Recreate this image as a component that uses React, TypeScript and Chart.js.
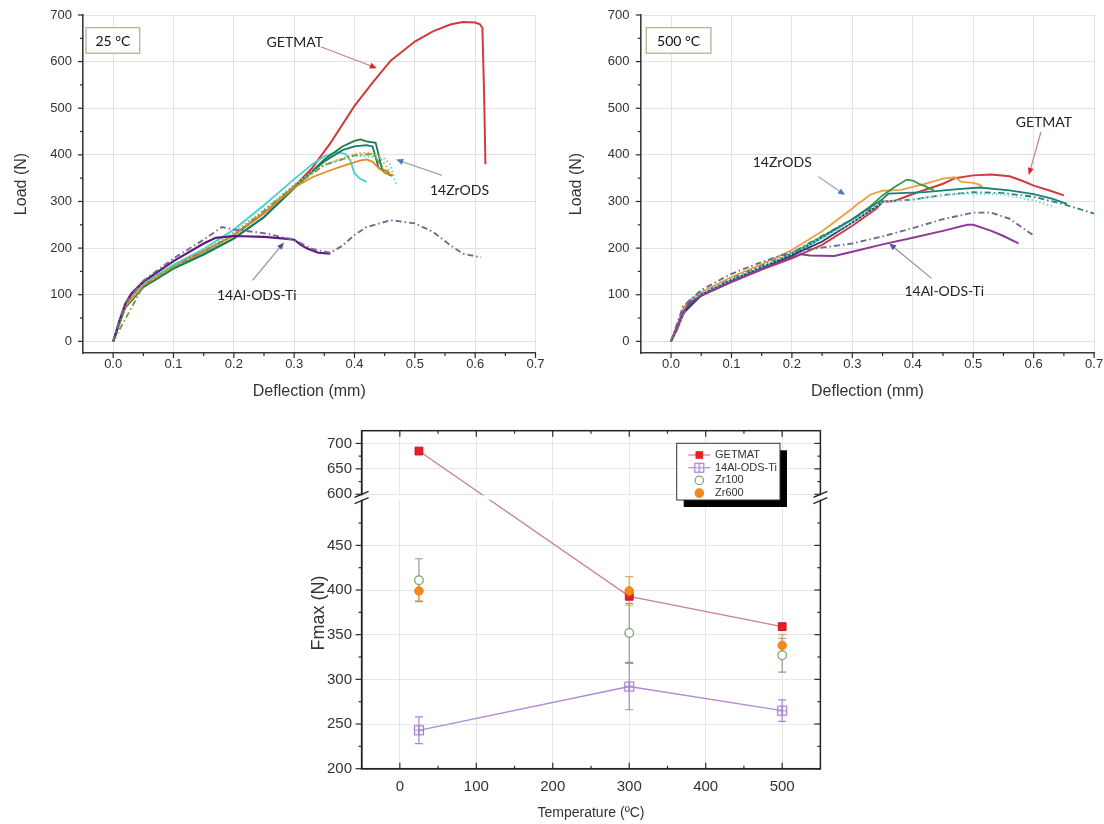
import React, { useEffect, useRef } from 'react';
import { Chart, registerables, LinearScale } from 'chart.js';

// ---------------- 25 °C load–deflection curves ----------------
const T25_GETMAT_X = [0, 0.005, 0.01, 0.02, 0.03, 0.05, 0.1, 0.15, 0.2, 0.25, 0.3, 0.33, 0.36, 0.4, 0.43, 0.46, 0.5, 0.53, 0.56, 0.58, 0.6, 0.608, 0.612, 0.615, 0.617];
const T25_GETMAT_Y = [0, 18, 40, 75, 98, 125, 163, 193, 228, 275, 332, 372, 425, 505, 555, 602, 643, 665, 680, 685, 684, 680, 672, 520, 380];
const T25_CYAN_X = [0, 0.01, 0.02, 0.03, 0.05, 0.1, 0.15, 0.2, 0.25, 0.3, 0.33, 0.35, 0.37, 0.385, 0.393, 0.4, 0.41, 0.42];
const T25_CYAN_Y = [0, 45, 80, 100, 124, 164, 198, 240, 292, 348, 380, 397, 406, 402, 388, 360, 348, 342];
const T25_CYAN_DOT_X = [0, 0.02, 0.05, 0.1, 0.15, 0.2, 0.25, 0.3, 0.35, 0.4, 0.43, 0.45, 0.46, 0.465, 0.47];
const T25_CYAN_DOT_Y = [0, 78, 122, 161, 194, 234, 282, 336, 380, 398, 396, 392, 378, 352, 336];
const T25_GREEN_X = [0, 0.02, 0.05, 0.1, 0.15, 0.2, 0.25, 0.3, 0.35, 0.38, 0.4, 0.41, 0.42, 0.435, 0.44, 0.445, 0.45, 0.462];
const T25_GREEN_Y = [0, 72, 116, 156, 186, 220, 266, 328, 390, 418, 430, 433, 429, 426, 400, 372, 362, 355];
const T25_TEAL_X = [0, 0.02, 0.05, 0.1, 0.15, 0.2, 0.25, 0.3, 0.35, 0.38, 0.4, 0.42, 0.43, 0.435, 0.44, 0.45];
const T25_TEAL_Y = [0, 73, 117, 157, 187, 221, 267, 330, 386, 410, 418, 421, 418, 395, 372, 364];
const T25_ORANGE_X = [0, 0.02, 0.05, 0.1, 0.15, 0.2, 0.25, 0.3, 0.33, 0.36, 0.39, 0.41, 0.42, 0.43, 0.44, 0.45, 0.465];
const T25_ORANGE_Y = [0, 75, 120, 160, 192, 228, 276, 330, 352, 367, 380, 388, 390, 385, 372, 362, 356];
const T25_ORANGE_DOT_X = [0, 0.02, 0.05, 0.1, 0.15, 0.2, 0.25, 0.3, 0.35, 0.4, 0.42, 0.44, 0.45, 0.46];
const T25_ORANGE_DOT_Y = [0, 76, 121, 162, 195, 232, 280, 335, 378, 402, 405, 398, 380, 362];
const T25_OLIVE_X = [0, 0.05, 0.1, 0.2, 0.3, 0.35, 0.4, 0.43, 0.44, 0.45, 0.46];
const T25_OLIVE_Y = [0, 119, 159, 227, 333, 378, 399, 402, 385, 368, 360];
const T25_AL_X = [0, 0.005, 0.01, 0.02, 0.03, 0.05, 0.1, 0.15, 0.17, 0.2, 0.25, 0.28, 0.3, 0.31, 0.32, 0.33, 0.34, 0.36];
const T25_AL_Y = [0, 20, 42, 80, 102, 128, 172, 210, 222, 226, 224, 221, 218, 208, 200, 195, 190, 188];
const T25_AL_DASH_X = [0, 0.02, 0.05, 0.1, 0.15, 0.18, 0.2, 0.25, 0.3, 0.33, 0.36, 0.38, 0.4, 0.42, 0.46, 0.5, 0.53, 0.56, 0.58, 0.61];
const T25_AL_DASH_Y = [0, 82, 130, 178, 218, 245, 240, 232, 218, 198, 190, 205, 228, 245, 260, 253, 235, 205, 188, 180];

// ---------------- 500 °C load–deflection curves ----------------
const T500_GETMAT_X = [0, 0.01, 0.02, 0.03, 0.05, 0.1, 0.15, 0.2, 0.25, 0.3, 0.34, 0.35, 0.36, 0.37, 0.4, 0.45, 0.47, 0.5, 0.53, 0.56, 0.58, 0.6, 0.63, 0.65];
const T500_GETMAT_Y = [0, 25, 58, 80, 98, 127, 154, 178, 207, 248, 285, 300, 300, 301, 316, 338, 350, 356, 358, 354, 345, 334, 322, 313];
const T500_ORANGE_X = [0, 0.01, 0.02, 0.03, 0.05, 0.1, 0.15, 0.2, 0.25, 0.3, 0.31, 0.315, 0.33, 0.35, 0.38, 0.42, 0.45, 0.47, 0.48, 0.5, 0.51, 0.515];
const T500_ORANGE_Y = [0, 35, 70, 88, 105, 138, 165, 196, 236, 285, 296, 300, 315, 323, 325, 338, 349, 352, 342, 340, 336, 332];
const T500_GREEN_X = [0, 0.02, 0.05, 0.1, 0.15, 0.2, 0.25, 0.3, 0.33, 0.35, 0.37, 0.39, 0.4, 0.41, 0.42, 0.435];
const T500_GREEN_Y = [0, 62, 100, 132, 158, 188, 225, 262, 290, 313, 331, 347, 345, 338, 333, 324];
const T500_TEAL_X = [0, 0.02, 0.05, 0.1, 0.15, 0.2, 0.25, 0.3, 0.35, 0.36, 0.42, 0.47, 0.51, 0.56, 0.6, 0.63, 0.655];
const T500_TEAL_Y = [0, 60, 98, 128, 155, 185, 222, 262, 305, 317, 320, 326, 330, 324, 316, 306, 295];
const T500_TEAL_DASH_X = [0, 0.03, 0.05, 0.1, 0.2, 0.3, 0.35, 0.4, 0.45, 0.5, 0.55, 0.6, 0.65, 0.7];
const T500_TEAL_DASH_Y = [0, 85, 102, 134, 190, 262, 300, 304, 314, 320, 318, 310, 294, 274];
const T500_CYAN_DOT_X = [0, 0.03, 0.05, 0.1, 0.2, 0.3, 0.35, 0.4, 0.48, 0.55, 0.6, 0.635];
const T500_CYAN_DOT_Y = [0, 88, 103, 132, 188, 255, 298, 305, 317, 315, 302, 288];
const T500_NAVY_X = [0, 0.02, 0.05, 0.1, 0.15, 0.2, 0.25, 0.3, 0.35];
const T500_NAVY_Y = [0, 60, 100, 130, 158, 184, 214, 255, 298];
const T500_AL_X = [0, 0.01, 0.02, 0.03, 0.05, 0.1, 0.15, 0.2, 0.215, 0.23, 0.27, 0.3, 0.35, 0.4, 0.45, 0.49, 0.5, 0.53, 0.55, 0.575];
const T500_AL_Y = [0, 30, 62, 82, 98, 128, 155, 180, 187, 184, 183, 192, 208, 222, 237, 250, 250, 237, 226, 210];
const T500_AL_DASH_X = [0, 0.02, 0.05, 0.1, 0.15, 0.2, 0.25, 0.3, 0.35, 0.4, 0.45, 0.5, 0.53, 0.56, 0.6];
const T500_AL_DASH_Y = [0, 75, 110, 145, 170, 192, 201, 210, 225, 243, 262, 276, 276, 263, 227];

// ---------------- Fmax vs temperature ----------------
const TEMPERATURES = [25, 300, 500];
const FMAX_GETMAT = [685, 393, 359];
const FMAX_ALODS = [243, 292, 265];
const FMAX_ALODS_ERR = [15, 26, 12];
const FMAX_ZR100 = [411, 352, 327];
const FMAX_ZR100_ERR = [24, 33, 19];
const FMAX_ZR600 = [399, 399, 338];
const FMAX_ZR600_ERR = [11, 16, 12];

// ---------------- tick labels ----------------
const DEFLECTION_TICKS = [0, 0.1, 0.2, 0.3, 0.4, 0.5, 0.6, 0.7];
const DEFLECTION_MINOR = [0.05, 0.15, 0.25, 0.35, 0.45, 0.55, 0.65];
const LOAD_TICKS = [0, 100, 200, 300, 400, 500, 600, 700];
const LOAD_MINOR = [50, 150, 250, 350, 450, 550, 650];
const TEMP_TICKS = [0, 100, 200, 300, 400, 500];
const TEMP_MINOR = [50, 150, 250, 350, 450];
const FMAX_TICKS = [200, 250, 300, 350, 400, 450, 600, 650, 700];
const FMAX_MINOR = [225, 275, 325, 375, 425, 475, 625, 675];

// axis break of the Fmax axis
const BREAK_LOW = 500;
const BREAK_HIGH = 600;
const FMAX_MIN = 200;
const FMAX_MAX = 725;
const LOWER_FRAC = 268 / 338;
const UPPER_FRAC = 274.4 / 338;

const AXIS_FONT = '"Liberation Sans", Arial, sans-serif';
const NOTE_FONT = 'Lato, "Open Sans", sans-serif';

function brokenFraction(v: number): number {
  if (v <= BREAK_LOW) return ((v - FMAX_MIN) / (BREAK_LOW - FMAX_MIN)) * LOWER_FRAC;
  if (v >= BREAK_HIGH) return UPPER_FRAC + ((v - BREAK_HIGH) / (FMAX_MAX - BREAK_HIGH)) * (1 - UPPER_FRAC);
  return LOWER_FRAC + ((v - BREAK_LOW) / (BREAK_HIGH - BREAK_LOW)) * (UPPER_FRAC - LOWER_FRAC);
}
function brokenValue(f: number): number {
  if (f <= LOWER_FRAC) return FMAX_MIN + (f / LOWER_FRAC) * (BREAK_LOW - FMAX_MIN);
  if (f >= UPPER_FRAC) return BREAK_HIGH + ((f - UPPER_FRAC) / (1 - UPPER_FRAC)) * (FMAX_MAX - BREAK_HIGH);
  return BREAK_LOW + ((f - LOWER_FRAC) / (UPPER_FRAC - LOWER_FRAC)) * (BREAK_HIGH - BREAK_LOW);
}

class BrokenLinearScale extends LinearScale {
  static id = 'brokenLinear';
  static defaults = {};
  getPixelForValue(value: any) {
    if (value === null || value === undefined || isNaN(value)) return NaN;
    return (this as any).getPixelForDecimal(brokenFraction(Number(value)));
  }
  getValueForPixel(pixel: number) {
    return brokenValue((this as any).getDecimalForPixel(pixel));
  }
}

Chart.register(...registerables);
Chart.register(BrokenLinearScale as any);

type Curve = { label: string; xs: number[]; ys: number[]; color: string; dash?: number[]; width?: number };

function curveDataset(c: Curve) {
  return {
    label: c.label,
    data: c.xs.map((x, i) => ({ x, y: c.ys[i] })),
    borderColor: c.color,
    borderWidth: c.width ?? 1.8,
    borderDash: c.dash ?? [],
    pointRadius: 0,
    fill: false,
    tension: 0,
  };
}

const DOT = [1.5, 2.5];
const DASHDOT = [6, 3, 1.5, 3];

const CURVES_25: Curve[] = [
  { label: '14Al-ODS-Ti dash', xs: T25_AL_DASH_X, ys: T25_AL_DASH_Y, color: '#76688e', dash: DASHDOT, width: 1.9 },
  { label: '14Al-ODS-Ti', xs: T25_AL_X, ys: T25_AL_Y, color: '#5c1a7c', width: 2.2 },
  { label: 'Zr olive', xs: T25_OLIVE_X, ys: T25_OLIVE_Y, color: '#6f9a3c', dash: DASHDOT },
  { label: 'Zr orange dot', xs: T25_ORANGE_DOT_X, ys: T25_ORANGE_DOT_Y, color: '#e9a13e', dash: DOT, width: 2 },
  { label: 'Zr cyan dot', xs: T25_CYAN_DOT_X, ys: T25_CYAN_DOT_Y, color: '#5cd6d6', dash: DOT, width: 2 },
  { label: 'Zr orange', xs: T25_ORANGE_X, ys: T25_ORANGE_Y, color: '#e88a22' },
  { label: 'Zr teal', xs: T25_TEAL_X, ys: T25_TEAL_Y, color: '#157a6c' },
  { label: 'Zr green', xs: T25_GREEN_X, ys: T25_GREEN_Y, color: '#1d7b42' },
  { label: 'Zr cyan', xs: T25_CYAN_X, ys: T25_CYAN_Y, color: '#3fd2cf' },
  { label: 'GETMAT', xs: T25_GETMAT_X, ys: T25_GETMAT_Y, color: '#d03a3c', width: 2 },
];

const CURVES_500: Curve[] = [
  { label: '14Al-ODS-Ti dash', xs: T500_AL_DASH_X, ys: T500_AL_DASH_Y, color: '#6c6a90', dash: DASHDOT, width: 1.9 },
  { label: '14Al-ODS-Ti', xs: T500_AL_X, ys: T500_AL_Y, color: '#8c3a98', width: 2 },
  { label: 'Zr cyan dot', xs: T500_CYAN_DOT_X, ys: T500_CYAN_DOT_Y, color: '#7fdada', dash: DOT, width: 2.2 },
  { label: 'Zr teal dash', xs: T500_TEAL_DASH_X, ys: T500_TEAL_DASH_Y, color: '#2a7f7a', dash: DASHDOT },
  { label: 'Zr navy', xs: T500_NAVY_X, ys: T500_NAVY_Y, color: '#2a3a6a' },
  { label: 'Zr teal', xs: T500_TEAL_X, ys: T500_TEAL_Y, color: '#1a8078' },
  { label: 'Zr green', xs: T500_GREEN_X, ys: T500_GREEN_Y, color: '#2f9a42' },
  { label: 'Zr orange', xs: T500_ORANGE_X, ys: T500_ORANGE_Y, color: '#eaa03e' },
  { label: 'GETMAT', xs: T500_GETMAT_X, ys: T500_GETMAT_Y, color: '#d03a3c', width: 2 },
];

type TickSpec = { scale: string; edge: 'left' | 'right' | 'top' | 'bottom'; values: number[]; outer: number; inner: number };

function drawTickMarks(chart: any, marks: TickSpec[]) {
  const { ctx, chartArea: a } = chart;
  ctx.save();
  ctx.strokeStyle = '#2a2a2a';
  ctx.lineWidth = 1.2;
  for (const m of marks) {
    const s = chart.scales[m.scale];
    for (const v of m.values) {
      const p = s.getPixelForValue(v);
      ctx.beginPath();
      if (m.edge === 'bottom') { ctx.moveTo(p, a.bottom - m.inner); ctx.lineTo(p, a.bottom + m.outer); }
      if (m.edge === 'top') { ctx.moveTo(p, a.top + m.inner); ctx.lineTo(p, a.top - m.outer); }
      if (m.edge === 'left') { ctx.moveTo(a.left + m.inner, p); ctx.lineTo(a.left - m.outer, p); }
      if (m.edge === 'right') { ctx.moveTo(a.right - m.inner, p); ctx.lineTo(a.right + m.outer, p); }
      ctx.stroke();
    }
  }
  ctx.restore();
}

type Note = { text: string; at: [number, number]; from: [number, number]; to: [number, number]; line: string; head: string };
type Panel = { box: { text: string; x0: number; y0: number; x1: number; y1: number }; notes: Note[] };

function notesPlugin(panel: Panel) {
  return {
    id: 'panelNotes',
    afterDatasetsDraw(chart: any) {
      const { ctx } = chart;
      const xs = chart.scales.x;
      const ys = chart.scales.y;
      ctx.save();
      const b = panel.box;
      const bx0 = xs.getPixelForValue(b.x0), bx1 = xs.getPixelForValue(b.x1);
      const by0 = ys.getPixelForValue(b.y0), by1 = ys.getPixelForValue(b.y1);
      ctx.fillStyle = '#ffffff';
      ctx.fillRect(bx0, by0, bx1 - bx0, by1 - by0);
      ctx.strokeStyle = '#b4b496';
      ctx.lineWidth = 1.3;
      ctx.strokeRect(bx0, by0, bx1 - bx0, by1 - by0);
      ctx.fillStyle = '#111';
      ctx.font = `14px ${NOTE_FONT}`;
      ctx.textAlign = 'center';
      ctx.textBaseline = 'middle';
      ctx.fillText(b.text, (bx0 + bx1) / 2, (by0 + by1) / 2 + 1);
      for (const n of panel.notes) {
        const fx = xs.getPixelForValue(n.from[0]), fy = ys.getPixelForValue(n.from[1]);
        const tx = xs.getPixelForValue(n.to[0]), ty = ys.getPixelForValue(n.to[1]);
        const ang = Math.atan2(ty - fy, tx - fx);
        ctx.strokeStyle = n.line;
        ctx.lineWidth = 1.2;
        ctx.beginPath();
        ctx.moveTo(fx, fy);
        ctx.lineTo(tx - Math.cos(ang) * 4, ty - Math.sin(ang) * 4);
        ctx.stroke();
        ctx.fillStyle = n.head;
        ctx.beginPath();
        ctx.moveTo(tx, ty);
        ctx.lineTo(tx - Math.cos(ang) * 7 + Math.sin(ang) * 3, ty - Math.sin(ang) * 7 - Math.cos(ang) * 3);
        ctx.lineTo(tx - Math.cos(ang) * 7 - Math.sin(ang) * 3, ty - Math.sin(ang) * 7 + Math.cos(ang) * 3);
        ctx.closePath();
        ctx.fill();
        ctx.fillStyle = '#222';
        ctx.fillText(n.text, xs.getPixelForValue(n.at[0]), ys.getPixelForValue(n.at[1]));
      }
      ctx.restore();
    },
  };
}

const PANEL_25: Panel = {
  box: { text: '25 °C', x0: -0.045, y0: 673, x1: 0.044, y1: 618 },
  notes: [
    { text: 'GETMAT', at: [0.301, 642], from: [0.344, 632], to: [0.437, 586], line: '#c98080', head: '#d02a2a' },
    { text: '14ZrODS', at: [0.574, 324], from: [0.545, 356], to: [0.469, 390], line: '#9aa8b8', head: '#4f78b8' },
    { text: '14Al-ODS-Ti', at: [0.238, 99], from: [0.231, 131], to: [0.283, 212], line: '#909098', head: '#5050a8' },
  ],
};

const PANEL_500: Panel = {
  box: { text: '500 °C', x0: -0.041, y0: 673, x1: 0.066, y1: 618 },
  notes: [
    { text: 'GETMAT', at: [0.617, 469], from: [0.612, 449], to: [0.592, 357], line: '#c98080', head: '#d02a2a' },
    { text: '14ZrODS', at: [0.184, 383], from: [0.244, 353], to: [0.288, 314], line: '#9aa8b8', head: '#4f78b8' },
    { text: '14Al-ODS-Ti', at: [0.452, 108], from: [0.431, 135], to: [0.361, 210], line: '#909098', head: '#5050a8' },
  ],
};

function deflectionConfig(curves: Curve[], panel: Panel, geom: { yAxisWidth: number; padRight: number; yTitlePad: number; yTickPad: number }) {
  const marks: TickSpec[] = [
    { scale: 'x', edge: 'bottom', values: DEFLECTION_TICKS, outer: 5, inner: 0 },
    { scale: 'x', edge: 'bottom', values: DEFLECTION_MINOR, outer: 3, inner: 0 },
    { scale: 'y', edge: 'left', values: LOAD_TICKS, outer: 5, inner: 0 },
    { scale: 'y', edge: 'left', values: LOAD_MINOR, outer: 3, inner: 0 },
  ];
  const zeroPad = (s: any) => { s.paddingLeft = 0; s.paddingRight = 0; s.paddingTop = 0; s.paddingBottom = 0; };
  return {
    type: 'line',
    data: { datasets: curves.map(curveDataset) },
    options: {
      animation: false,
      responsive: false,
      devicePixelRatio: 1,
      layout: { padding: { left: 0, right: geom.padRight, top: 15, bottom: 0 } },
      plugins: { legend: { display: false }, tooltip: { enabled: false } },
      scales: {
        x: {
          type: 'linear',
          min: -0.05,
          max: 0.7,
          afterBuildTicks: (s: any) => { s.ticks = DEFLECTION_TICKS.map((v) => ({ value: v })); },
          afterFit: (s: any) => { s.height = 47; zeroPad(s); },
          grid: { color: '#e2e2e2', lineWidth: 1, drawTicks: false },
          border: { color: '#3a3a3a', width: 1.6 },
          ticks: { padding: 4, autoSkip: false, maxRotation: 0, color: '#333', font: { family: AXIS_FONT, size: 13 }, callback: (v: any) => Number(v).toFixed(1) },
          title: { display: true, text: 'Deflection (mm)', color: '#333', font: { family: AXIS_FONT, size: 16, lineHeight: 1 }, padding: 0 },
        },
        y: {
          type: 'linear',
          min: -25,
          max: 700,
          afterBuildTicks: (s: any) => { s.ticks = LOAD_TICKS.map((v) => ({ value: v })); },
          afterFit: (s: any) => { s.width = geom.yAxisWidth; zeroPad(s); },
          grid: { color: '#e2e2e2', lineWidth: 1, drawTicks: false },
          border: { color: '#3a3a3a', width: 1.6 },
          ticks: { padding: geom.yTickPad, autoSkip: false, color: '#333', font: { family: AXIS_FONT, size: 13 }, callback: (v: any) => String(v) },
          title: { display: true, text: 'Load (N)', color: '#333', font: { family: AXIS_FONT, size: 16 }, padding: { top: geom.yTitlePad, bottom: 0 } },
        },
      },
    },
    plugins: [
      { id: 'deflTicks', afterDraw: (chart: any) => drawTickMarks(chart, marks) },
      notesPlugin(panel),
    ],
  };
}

function makeCrossSquare(color: string) {
  const c = document.createElement('canvas');
  c.width = 12;
  c.height = 12;
  const g = c.getContext('2d')!;
  g.strokeStyle = color;
  g.lineWidth = 1.2;
  g.strokeRect(1.5, 1.5, 9, 9);
  g.beginPath();
  g.moveTo(6, 1.5); g.lineTo(6, 10.5);
  g.moveTo(1.5, 6); g.lineTo(10.5, 6);
  g.stroke();
  return c;
}

function pts(xs: number[], ys: number[]) {
  return xs.map((x, i) => ({ x, y: ys[i] }));
}

function drawLegendSymbol(ctx: any, ds: any, cx: number, cy: number) {
  if (ds.showLine !== false) {
    ctx.strokeStyle = ds.borderColor;
    ctx.lineWidth = 1.2;
    ctx.beginPath();
    ctx.moveTo(cx - 11, cy);
    ctx.lineTo(cx + 11, cy);
    ctx.stroke();
  }
  if (ds.pointStyle === 'rect') {
    ctx.fillStyle = ds.pointBackgroundColor;
    ctx.fillRect(cx - 3.8, cy - 3.8, 7.6, 7.6);
  } else if (ds.pointStyle && typeof ds.pointStyle === 'object') {
    ctx.fillStyle = '#fff';
    ctx.fillRect(cx - 5, cy - 5, 10, 10);
    ctx.drawImage(ds.pointStyle, cx - 6, cy - 6);
  } else {
    ctx.beginPath();
    ctx.arc(cx, cy, 4.2, 0, Math.PI * 2);
    ctx.fillStyle = ds.pointBackgroundColor;
    ctx.fill();
    ctx.strokeStyle = ds.pointBorderColor;
    ctx.lineWidth = 1.2;
    ctx.stroke();
  }
}

function fmaxConfig() {
  const crossSquare = makeCrossSquare('#a47dcc');
  const errorSpecs = [
    { values: FMAX_ALODS, errs: FMAX_ALODS_ERR, color: '#a985d2' },
    { values: FMAX_ZR100, errs: FMAX_ZR100_ERR, color: '#8e9e86' },
    { values: FMAX_ZR600, errs: FMAX_ZR600_ERR, color: '#e3a85a' },
  ];
  const marks: TickSpec[] = [
    { scale: 'y', edge: 'left', values: FMAX_TICKS, outer: 6, inner: 0 },
    { scale: 'y', edge: 'left', values: FMAX_MINOR, outer: 3, inner: 0 },
    { scale: 'y', edge: 'right', values: FMAX_TICKS, outer: 0, inner: 6 },
    { scale: 'y', edge: 'right', values: FMAX_MINOR, outer: 0, inner: 3 },
    { scale: 'x', edge: 'top', values: TEMP_TICKS, outer: 0, inner: 6 },
    { scale: 'x', edge: 'top', values: TEMP_MINOR, outer: 0, inner: 3 },
    { scale: 'x', edge: 'bottom', values: TEMP_TICKS, outer: 0, inner: 6 },
    { scale: 'x', edge: 'bottom', values: TEMP_MINOR, outer: 0, inner: 3 },
  ];
  const zeroPad = (s: any) => { s.paddingLeft = 0; s.paddingRight = 0; s.paddingTop = 0; s.paddingBottom = 0; };
  return {
    type: 'line',
    data: {
      datasets: [
        { label: 'GETMAT', data: pts(TEMPERATURES, FMAX_GETMAT), borderColor: '#c68484', borderWidth: 1.3, pointStyle: 'rect', pointRadius: 5.5, pointBackgroundColor: '#ea1c24', pointBorderColor: '#c8121a', pointBorderWidth: 1, order: 1, tension: 0 },
        { label: '14Al-ODS-Ti', data: pts(TEMPERATURES, FMAX_ALODS), borderColor: '#b08ad8', borderWidth: 1.3, pointStyle: crossSquare, pointRadius: 5, order: 3, tension: 0 },
        { label: 'Zr100', data: pts(TEMPERATURES, FMAX_ZR100), showLine: false, pointStyle: 'circle', pointRadius: 4.3, pointBackgroundColor: '#ffffff', pointBorderColor: '#7fa06e', pointBorderWidth: 1.3, order: 2 },
        { label: 'Zr600', data: pts(TEMPERATURES, FMAX_ZR600), showLine: false, pointStyle: 'circle', pointRadius: 4.3, pointBackgroundColor: '#f28a1e', pointBorderColor: '#f08418', pointBorderWidth: 1, order: 0 },
      ],
    },
    options: {
      animation: false,
      responsive: false,
      devicePixelRatio: 1,
      layout: { padding: { left: 0, right: 9.6, top: 30.7, bottom: 0 } },
      plugins: { legend: { display: false }, tooltip: { enabled: false } },
      scales: {
        x: {
          type: 'linear',
          min: -50,
          max: 550,
          afterBuildTicks: (s: any) => { s.ticks = TEMP_TICKS.map((v) => ({ value: v })); },
          afterFit: (s: any) => { s.height = 55.3; zeroPad(s); },
          grid: { color: '#e6e6e6', lineWidth: 1, drawTicks: false },
          border: { color: '#222', width: 1.5 },
          ticks: { padding: 9, autoSkip: false, maxRotation: 0, color: '#333', font: { family: AXIS_FONT, size: 15 }, callback: (v: any) => String(v) },
          title: { display: true, text: 'Temperature (ºC)', color: '#333', font: { family: AXIS_FONT, size: 14 }, padding: { top: 0, bottom: 2.3 } },
        },
        y: {
          type: 'brokenLinear',
          min: FMAX_MIN,
          max: FMAX_MAX,
          afterBuildTicks: (s: any) => { s.ticks = FMAX_TICKS.map((v) => ({ value: v })); },
          afterFit: (s: any) => { s.width = 71.6; zeroPad(s); },
          grid: { color: '#e6e6e6', lineWidth: 1, drawTicks: false },
          border: { color: '#222', width: 1.5 },
          ticks: { padding: 9.6, autoSkip: false, color: '#333', font: { family: AXIS_FONT, size: 15 }, callback: (v: any) => String(v) },
          title: { display: false },
        },
      },
    },
    plugins: [
      {
        id: 'errorBars',
        beforeDatasetsDraw(chart: any) {
          const { ctx } = chart;
          const xs = chart.scales.x, ys = chart.scales.y;
          ctx.save();
          ctx.lineWidth = 1.2;
          for (const s of errorSpecs) {
            ctx.strokeStyle = s.color;
            TEMPERATURES.forEach((t, i) => {
              const px = xs.getPixelForValue(t);
              const hi = ys.getPixelForValue(s.values[i] + s.errs[i]);
              const lo = ys.getPixelForValue(s.values[i] - s.errs[i]);
              ctx.beginPath();
              ctx.moveTo(px, hi); ctx.lineTo(px, lo);
              ctx.moveTo(px - 4, hi); ctx.lineTo(px + 4, hi);
              ctx.moveTo(px - 4, lo); ctx.lineTo(px + 4, lo);
              ctx.stroke();
            });
          }
          ctx.restore();
        },
      },
      {
        id: 'frameAndBreak',
        afterDatasetsDraw(chart: any) {
          const { ctx, chartArea: a } = chart;
          const ys = chart.scales.y;
          ctx.save();
          ctx.strokeStyle = '#222';
          ctx.lineWidth = 1.5;
          ctx.strokeRect(a.left, a.top, a.right - a.left, a.bottom - a.top);
          ctx.restore();
          drawTickMarks(chart, marks);
          const yHi = ys.getPixelForValue(BREAK_HIGH);
          const yLo = ys.getPixelForValue(BREAK_LOW);
          ctx.save();
          ctx.fillStyle = '#ffffff';
          ctx.fillRect(a.left - 4, yHi + 1, a.right - a.left + 8, yLo - yHi - 2);
          ctx.strokeStyle = '#222';
          ctx.lineWidth = 1.3;
          for (const ax of [a.left, a.right]) {
            for (const yy of [yHi, yLo]) {
              ctx.beginPath();
              ctx.moveTo(ax - 7, yy + 3);
              ctx.lineTo(ax + 7, yy - 3);
              ctx.stroke();
            }
          }
          ctx.restore();
        },
        afterDraw(chart: any) {
          const { ctx, chartArea: a } = chart;
          ctx.save();
          // y-axis title
          ctx.translate(29, 213);
          ctx.rotate(-Math.PI / 2);
          ctx.fillStyle = '#333';
          ctx.font = `18px ${AXIS_FONT}`;
          ctx.textAlign = 'center';
          ctx.textBaseline = 'middle';
          ctx.fillText('Fmax (N)', 0, 0);
          ctx.restore();
          // legend
          const bw = 103.3, bh = 56.7;
          const bx = a.right - 40.4 - bw;
          const by = a.top + 12.6;
          ctx.save();
          ctx.fillStyle = '#000';
          ctx.fillRect(bx + 7, by + 7, bw, bh);
          ctx.fillStyle = '#fff';
          ctx.fillRect(bx, by, bw, bh);
          ctx.strokeStyle = '#333';
          ctx.lineWidth = 1;
          ctx.strokeRect(bx, by, bw, bh);
          ctx.font = `11px ${AXIS_FONT}`;
          ctx.textAlign = 'left';
          ctx.textBaseline = 'middle';
          chart.data.datasets.forEach((ds: any, i: number) => {
            const cy = by + 11.7 + i * 12.7;
            drawLegendSymbol(ctx, ds, bx + 22.6, cy);
            ctx.fillStyle = '#333';
            ctx.fillText(ds.label, bx + 38.3, cy);
          });
          ctx.restore();
        },
      },
    ],
  };
}

function ChartBox({ left, top, width, height, build }: { left: number; top: number; width: number; height: number; build: () => any }) {
  const ref = useRef<HTMLCanvasElement | null>(null);
  useEffect(() => {
    if (!ref.current) return;
    const chart = new Chart(ref.current, build());
    return () => chart.destroy();
  }, []);
  return (
    <canvas
      ref={ref}
      width={width}
      height={height}
      style={{ position: 'absolute', left, top, width, height, display: 'block' }}
    />
  );
}

export default function App() {
  return (
    <div style={{ position: 'absolute', left: 0, top: 0, width: 1104, height: 824, background: '#ffffff', overflow: 'hidden' }}>
      <ChartBox left={0} top={0} width={550} height={400}
        build={() => deflectionConfig(CURVES_25, PANEL_25, { yAxisWidth: 83, padRight: 14.5, yTitlePad: 12.4, yTickPad: 11 })} />
      <ChartBox left={550} top={0} width={554} height={400}
        build={() => deflectionConfig(CURVES_500, PANEL_500, { yAxisWidth: 90.8, padRight: 9.9, yTitlePad: 16.9, yTickPad: 11.3 })} />
      <ChartBox left={290} top={400} width={540} height={424} build={fmaxConfig} />
    </div>
  );
}
